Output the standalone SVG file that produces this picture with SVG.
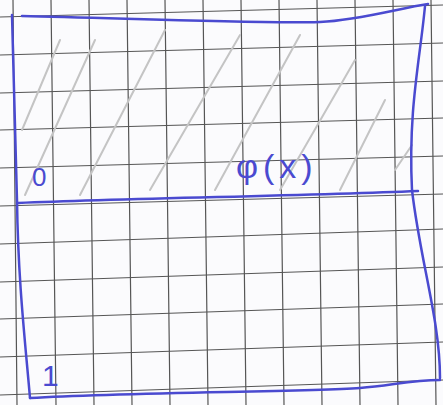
<svg xmlns="http://www.w3.org/2000/svg" width="443" height="405" viewBox="0 0 443 405">
<style>
.g{stroke:#555;stroke-width:1.2;fill:none}
.h{stroke:#c4c4c4;stroke-width:2;fill:none;stroke-linecap:round}
.b{stroke:#4a4ad0;stroke-width:2.5;fill:none;stroke-linecap:round;stroke-linejoin:round}
.t{fill:#4a4ad0;font-family:"Liberation Sans",sans-serif}
</style>
<rect width="443" height="405" fill="#fbfbfd"/>
<g id="grid">
<path class="g" d="M13 0L17 405M51 0L56 405M89 0L94 405M127 0L132 405M165 0L170 405M203 0L208 405M241 0L246 405M279 0L284 405M317 0L322 405M355 0L360 405M393 0L398 405M431 0L436 405"/>
<path class="g" d="M0 17L443 5M0 55L443 43M0 93L443 81M0 130L443 118M0 168L443 156M0 206L443 194M0 244L443 229M0 282L443 267M0 319L443 304M0 357L443 342M0 395L443 380"/>
</g>
<g id="hatch">
<path class="h" d="M22 130L60 40M25 195L95 40M80 195L165 30M150 190L240 35M215 190L300 35M280 190L355 60M340 190L385 100M395 170L412 145"/>
</g>
<g id="frame">
<path class="b" d="M12 15C14 80 15 140 17 200C18 280 25 340 30 398"/>
<path class="b" d="M22 16C120 18 250 24 320 22C360 20 400 8 428 4"/>
<path class="b" d="M425 6C420 60 408 110 412 190C420 260 440 320 440 378"/>
<path class="b" d="M30 398C130 392 300 392 360 388C390 386 410 380 440 380"/>
<path class="b" d="M18 203C140 198 300 196 418 191"/>
</g>
<g id="labels">
<text class="t" x="32" y="186" font-size="26">0</text>
<text class="t" x="236" y="178" font-size="34" letter-spacing="5">φ(x)</text>
<text class="t" x="42" y="386" font-size="30">1</text>
</g>
</svg>
